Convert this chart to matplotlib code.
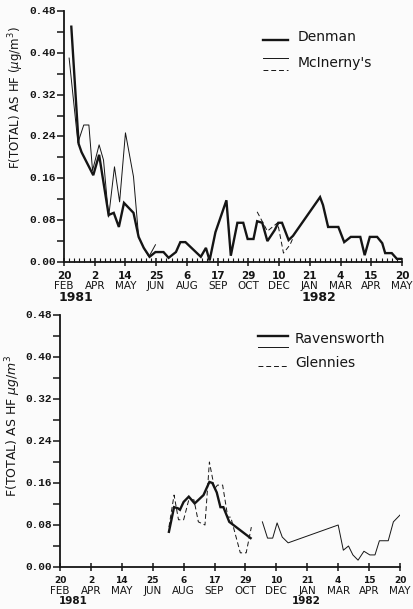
import matplotlib
matplotlib.use('Agg')
import matplotlib.pyplot as plt
from matplotlib.lines import Line2D
from matplotlib.ticker import MultipleLocator, FixedLocator

# x axis: days since 20 Feb 1981, ticks every six weeks
tick_days = [0, 42, 84, 126, 168, 210, 252, 294, 336, 378, 420, 462]
tick_day_lbl = ['20', '2', '14', '25', '6', '17', '29', '10', '21', '4', '15', '20']
tick_mon_lbl = ['FEB', 'APR', 'MAY', 'JUN', 'AUG', 'SEP', 'OCT', 'DEC',
                'JAN', 'MAR', 'APR', 'MAY']
year_lbl = ['1981', '1982']

# top panel
denman_day = [10, 20, 24, 40, 48, 61, 68, 75, 82, 95, 102, 109, 117, 125,
              136, 143, 153, 159, 166, 187, 194, 199, 207, 222, 228, 237,
              245, 251, 259, 264, 271, 278, 288, 293, 298, 307, 313, 350,
              354, 361, 375, 383, 392, 405, 411, 418, 428, 435, 439, 448,
              455, 462]
denman_val = [0.45, 0.226, 0.21, 0.166, 0.205, 0.090, 0.094, 0.067, 0.113,
              0.094, 0.048, 0.027, 0.010, 0.019, 0.019, 0.008, 0.019, 0.038,
              0.038, 0.010, 0.027, 0.003, 0.057, 0.118, 0.012, 0.075, 0.075,
              0.044, 0.044, 0.078, 0.075, 0.040, 0.061, 0.075, 0.075, 0.042,
              0.050, 0.124, 0.109, 0.067, 0.067, 0.038, 0.048, 0.048, 0.013,
              0.048, 0.048, 0.036, 0.017, 0.017, 0.006, 0.006]

mcin_day = [7, 19, 27, 34, 39, 48, 54, 61, 69, 76, 84, 95, 102, 109, 116, 125]
mcin_val = [0.39, 0.228, 0.262, 0.262, 0.175, 0.224, 0.195, 0.086, 0.182,
            0.115, 0.247, 0.163, 0.048, 0.027, 0.010, 0.033]

mcin2_day = [264, 278, 292, 300, 309, 313]
mcin2_val = [0.096, 0.059, 0.075, 0.017, 0.033, 0.046]

# bottom panel
raven_day = [148, 155, 160, 163, 168, 175, 183, 195, 203, 207, 213, 218,
             222, 230, 259]
raven_val = [0.067, 0.114, 0.112, 0.109, 0.124, 0.134, 0.121, 0.137, 0.162,
             0.160, 0.142, 0.114, 0.114, 0.086, 0.055]

raven2_day = [275, 282, 289, 295, 302, 310, 378, 385, 392, 398, 405, 413,
              421, 428, 434, 446, 453, 462]
raven2_val = [0.086, 0.055, 0.055, 0.084, 0.057, 0.046, 0.080, 0.032, 0.040,
              0.023, 0.013, 0.030, 0.023, 0.023, 0.050, 0.050, 0.086, 0.099]

glen_day = [148, 155, 161, 168, 175, 182, 188, 197, 203, 210, 214, 221, 228,
            232, 245, 253, 260]
glen_val = [0.076, 0.137, 0.090, 0.090, 0.128, 0.128, 0.086, 0.080, 0.200,
            0.149, 0.156, 0.156, 0.095, 0.095, 0.027, 0.027, 0.076]

INK = '#151515'
THICK = 1.7
THIN = 0.7
DASH = (0, (5, 3))

fig = plt.figure(figsize=(4.13, 6.09), dpi=100)
fig.patch.set_facecolor('#fbfbfb')

W, H = 413.0, 609.0


def px_axes(left, top, right, bottom):
    return fig.add_axes([left / W, 1 - bottom / H, (right - left) / W,
                         (bottom - top) / H])


def style_axes(ax, minor_x, day_size, mon_size, year_size, year_pos):
    ax.set_facecolor('none')
    for s in ['top', 'right']:
        ax.spines[s].set_visible(False)
    for s in ['left', 'bottom']:
        ax.spines[s].set_linewidth(1.3)
        ax.spines[s].set_color(INK)
    ax.set_xlim(0, 462)
    ax.set_ylim(0, 0.48)
    ax.yaxis.set_major_locator(MultipleLocator(0.08))
    ax.yaxis.set_minor_locator(MultipleLocator(0.04))
    ax.set_yticklabels([])
    ax.tick_params(axis='y', which='both', direction='out', length=5,
                   width=1.1, color=INK, pad=2)
    for v in ax.get_yticks():
        if 0 <= v <= 0.481:
            ax.text(-0.025, v, '%.2f' % v, transform=ax.get_yaxis_transform(),
                    ha='right', va='center', fontsize=8, fontweight='bold',
                    family='Liberation Mono', color=INK)
    ax.xaxis.set_major_locator(FixedLocator(tick_days))
    ax.set_xticklabels([])
    ax.tick_params(axis='x', which='major', direction='inout', length=6,
                   width=1.1, color=INK)
    if minor_x:
        ax.xaxis.set_minor_locator(MultipleLocator(7))
        ax.tick_params(axis='x', which='minor', direction='in', length=3,
                       width=0.8, color=INK)
    tr = ax.get_xaxis_transform()
    for d, dl, ml in zip(tick_days, tick_day_lbl, tick_mon_lbl):
        ax.text(d, -0.035, dl, transform=tr, ha='center', va='top',
                fontsize=day_size, fontweight='bold', color=INK)
        ax.text(d, -0.075, ml, transform=tr, ha='center', va='top',
                fontsize=mon_size, color=INK)
    for (x, ha), y in zip(year_pos, year_lbl):
        ax.text(x, -0.115, y, transform=tr, ha=ha, va='top',
                fontsize=year_size, fontweight='bold', color=INK)


# ---- top panel
ax1 = px_axes(64, 11, 402, 262)
style_axes(ax1, True, 7.5, 7.5, 9, [(-8, 'left'), (349, 'center')])
ax1.plot(mcin_day, mcin_val, color=INK, lw=THIN)
ax1.plot(mcin2_day, mcin2_val, color=INK, lw=THIN, linestyle=DASH)
ax1.plot(denman_day, denman_val, color=INK, lw=THICK, solid_joinstyle='miter')

t = ax1.transAxes
ax1.add_line(Line2D([0.589, 0.663], [0.885, 0.885], transform=t, color=INK,
                    lw=THICK))
ax1.text(0.692, 0.898, 'Denman', transform=t, ha='left', va='center',
         fontsize=10, color=INK)
ax1.add_line(Line2D([0.589, 0.663], [0.813, 0.813], transform=t, color=INK,
                    lw=THIN))
ax1.add_line(Line2D([0.589, 0.663], [0.765, 0.765], transform=t, color=INK,
                    lw=THIN, linestyle=DASH))
ax1.text(0.692, 0.793, "McInerny's", transform=t, ha='left', va='center',
         fontsize=10, color=INK)

fig.text(16 / W, 1 - 98 / H, r'F(TOTAL) AS HF ($\mu$g/m$^3$)', rotation=90,
         ha='center', va='center', fontsize=8.5, color=INK)

# ---- bottom panel
ax2 = px_axes(60, 315, 400, 567)
style_axes(ax2, False, 6.5, 7.5, 7.5, [(-2, 'left'), (335, 'center')])
ax2.plot(raven2_day, raven2_val, color=INK, lw=THIN)
ax2.plot(glen_day, glen_val, color=INK, lw=THIN, linestyle=DASH)
ax2.plot(raven_day, raven_val, color=INK, lw=THICK, solid_joinstyle='miter')

t = ax2.transAxes
ax2.add_line(Line2D([0.582, 0.671], [0.917, 0.917], transform=t, color=INK,
                    lw=THICK))
ax2.add_line(Line2D([0.582, 0.671], [0.873, 0.873], transform=t, color=INK,
                    lw=THIN))
ax2.text(0.691, 0.905, 'Ravensworth', transform=t, ha='left', va='center',
         fontsize=10, color=INK)
ax2.add_line(Line2D([0.582, 0.671], [0.798, 0.798], transform=t, color=INK,
                    lw=THIN, linestyle=DASH))
ax2.text(0.691, 0.810, 'Glennies', transform=t, ha='left', va='center',
         fontsize=10, color=INK)

fig.text(13 / W, 1 - 426 / H, r'F(TOTAL) AS HF $\mu g/m^3$', rotation=90,
         ha='center', va='center', fontsize=9, color=INK)

fig.savefig('out.png', dpi=100, facecolor=fig.get_facecolor())
